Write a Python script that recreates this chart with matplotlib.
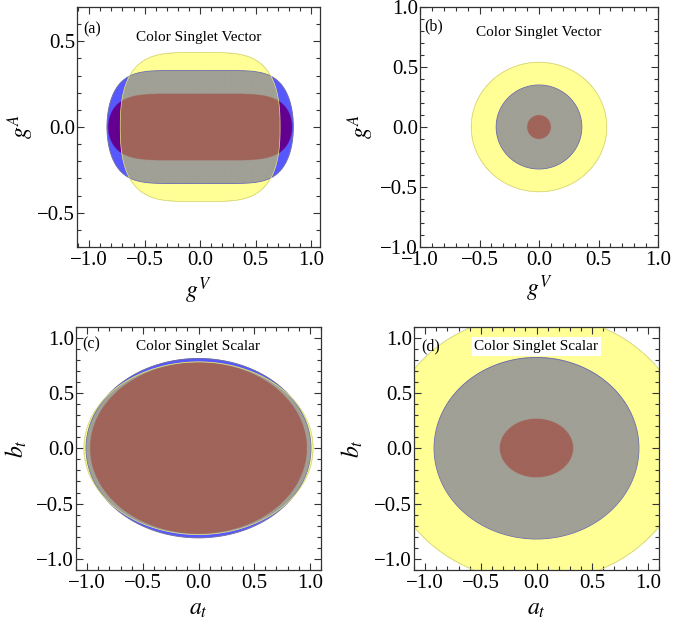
import numpy as np
import matplotlib
matplotlib.use("Agg")
import matplotlib.pyplot as plt
from matplotlib.ticker import MultipleLocator

plt.rcParams['font.family'] = ['Liberation Serif', 'DejaVu Serif']
plt.rcParams['mathtext.fontset'] = 'stix'

# ---------------- data ----------------
panel_labels = ['(a)', '(b)', '(c)', '(d)']
titles = ['Color Singlet Vector', 'Color Singlet Vector',
          'Color Singlet Scalar', 'Color Singlet Scalar']
xlabels = [r'$g^V$', r'$g^V$', r'$a_t$', r'$a_t$']
ylabels = [r'$g^A$', r'$g^A$', r'$b_t$', r'$b_t$']
xlims = [(-1.11, 1.08), (-1.0, 1.0), (-1.1, 1.1), (-1.1, 1.1)]
ylims = [(-0.70, 0.70), (-1.0, 1.0), (-1.1, 1.1), (-1.1, 1.1)]

# allowed regions, |x/a|^px + |y/b|^py <= 1
yellow_a = [0.72, 0.57, 1.03, 1.36]
yellow_b = [0.435, 0.54, 0.78, 1.21]
yellow_px = [4.0, 2.0, 2.0, 2.0]
yellow_py = [2.5, 2.0, 2.0, 2.0]
blue_a = [0.84, 0.36, 1.01, 0.92]
blue_b = [0.33, 0.35, 0.81, 0.82]
blue_px = [6.0, 2.0, 2.0, 2.0]
blue_py = [2.0, 2.0, 2.0, 2.0]
red_a = [0.83, 0.10, 0.975, 0.33]
red_b = [0.195, 0.10, 0.775, 0.265]
red_px = [6.0, 2.0, 2.0, 2.0]
red_py = [2.0, 2.0, 2.0, 2.0]

# colours of overlap combinations (code = yellow + 2*blue + 4*red)
combo_colors = {
    1: (255, 255, 150),   # yellow only
    2: (88, 88, 255),     # blue only
    3: (160, 160, 150),   # yellow & blue
    4: (230, 110, 110),   # red only
    5: (230, 160, 110),   # yellow & red
    6: (100, 0, 145),     # blue & red
    7: (160, 100, 90),    # all three
}

# layout (figure fraction)
positions = [
    [77 / 676, 1 - 247 / 627, 243 / 676, 240 / 627],
    [420 / 676, 1 - 247 / 627, 238 / 676, 240 / 627],
    [76 / 676, 1 - 570 / 627, 245 / 676, 243.5 / 627],
    [414 / 676, 1 - 570 / 627, 245 / 676, 243.5 / 627],
]
title_y = [0.875, 0.895, 0.918, 0.918]
label_xy = [(0.064, 0.905), (0.058, 0.92), (0.062, 0.927), (0.069, 0.92)]
xlab_y = [-0.18, -0.172, -0.162, -0.162]
ylab_x = [-0.235, -0.252, -0.243, -0.252]


def region(X, Y, a, b, px, py):
    return np.abs(X / a) ** px + np.abs(Y / b) ** py


fig = plt.figure(figsize=(6.76, 6.27), dpi=100)

for i in range(4):
    ax = fig.add_axes(positions[i])
    x0, x1 = xlims[i]
    y0, y1 = ylims[i]
    xs = np.linspace(x0, x1, 900)
    ys = np.linspace(y0, y1, 900)
    X, Y = np.meshgrid(xs, ys)
    fy = region(X, Y, yellow_a[i], yellow_b[i], yellow_px[i], yellow_py[i])
    fb = region(X, Y, blue_a[i], blue_b[i], blue_px[i], blue_py[i])
    fr = region(X, Y, red_a[i], red_b[i], red_px[i], red_py[i])
    code = (fy <= 1).astype(int) + 2 * (fb <= 1) + 4 * (fr <= 1)
    img = np.zeros(code.shape + (4,))
    for c, rgb in combo_colors.items():
        m = code == c
        img[m, :3] = np.array(rgb) / 255.0
        img[m, 3] = 1.0
    ax.imshow(img, extent=(x0, x1, y0, y1), origin='lower', aspect='auto',
              interpolation='antialiased', zorder=1)
    ax.contour(X, Y, fb, levels=[1], colors=[(0.42, 0.42, 0.68)],
               linewidths=0.6, zorder=2)
    ax.contour(X, Y, fy, levels=[1], colors=[(0.93, 0.93, 0.45)],
               linewidths=0.5, zorder=2)

    ax.set_xlim(x0, x1)
    ax.set_ylim(y0, y1)
    ax.xaxis.set_major_locator(MultipleLocator(0.5))
    ax.yaxis.set_major_locator(MultipleLocator(0.5))
    ax.xaxis.set_minor_locator(MultipleLocator(0.1))
    ax.yaxis.set_minor_locator(MultipleLocator(0.1))
    ax.tick_params(which='both', direction='in', top=True, right=True,
                   width=0.8, color='#333333')
    ax.tick_params(which='major', length=5, labelsize=15, pad=3)
    ax.tick_params(axis='y', which='major', pad=1.5)
    ax.tick_params(which='minor', length=2.8)
    for s in ax.spines.values():
        s.set_linewidth(0.9)
        s.set_color('#333333')

    ax.set_xlabel(xlabels[i], fontsize=17)
    ax.set_ylabel(ylabels[i], fontsize=17)
    ax.xaxis.set_label_coords(0.5, xlab_y[i])
    ax.yaxis.set_label_coords(ylab_x[i], 0.5)
    ax.xaxis.label.set_va('center')
    ax.yaxis.label.set_va('center')

    ax.text(0.5, title_y[i], titles[i], transform=ax.transAxes,
            ha='center', va='center', fontsize=11, zorder=5,
            bbox=dict(facecolor='white', edgecolor='none', pad=2))
    ax.text(label_xy[i][0], label_xy[i][1], panel_labels[i],
            transform=ax.transAxes, ha='center', va='center',
            fontsize=11.5, zorder=5)

fig.savefig('out.png', dpi=100)
